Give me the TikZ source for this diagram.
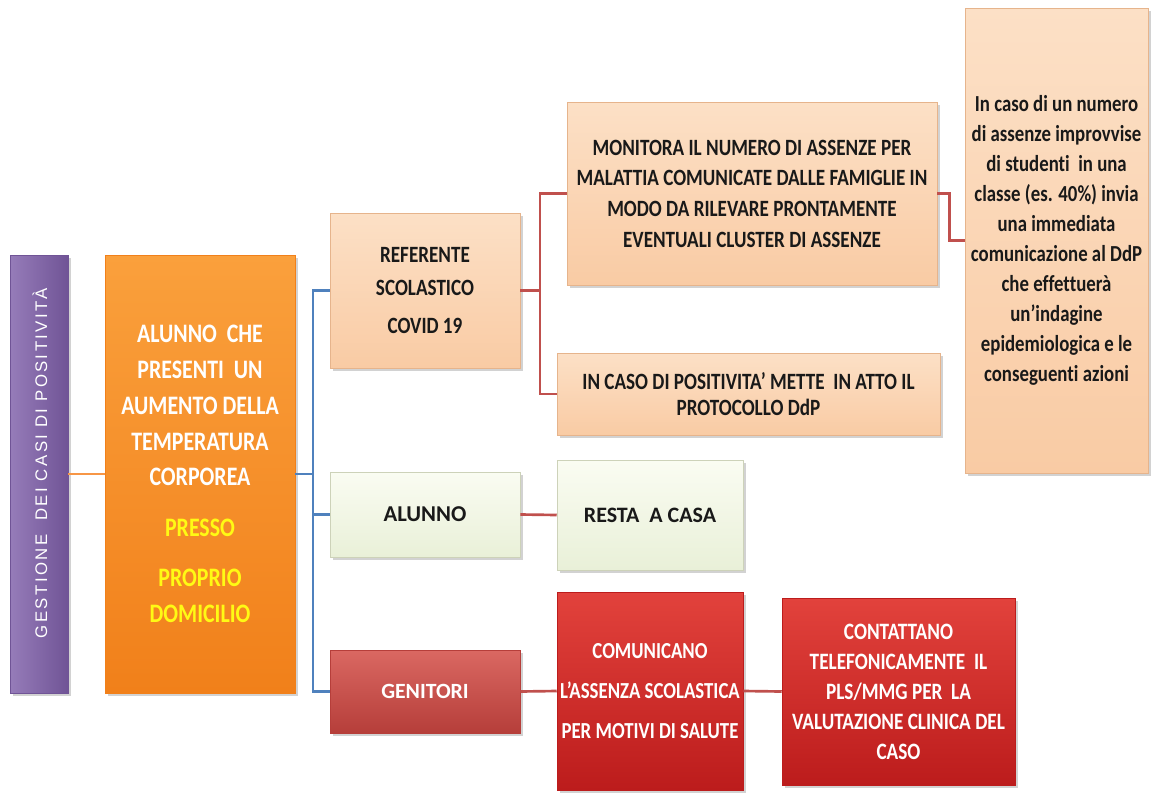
\documentclass[tikz,border=0pt]{standalone}
\usepackage{fontspec}
\setmainfont{Carlito}[FakeStretch=0.82, Ligatures=NoCommon]
\newfontfamily\wide{Carlito}[Ligatures=NoCommon]
\newfontfamily\gestf{Liberation Sans}[LetterSpace=14]
\usetikzlibrary{shadows,calc}
\definecolor{txt}{RGB}{25,25,25}
\definecolor{peachT}{RGB}{252,224,198}
\definecolor{peachB}{RGB}{249,203,164}
\definecolor{peachD}{RGB}{230,180,140}
\definecolor{creamT}{RGB}{250,252,242}
\definecolor{creamB}{RGB}{233,240,216}
\definecolor{creamD}{RGB}{205,210,185}
\definecolor{redT}{RGB}{226,66,60}
\definecolor{redB}{RGB}{188,28,28}
\definecolor{genT}{RGB}{218,104,98}
\definecolor{genB}{RGB}{182,62,58}
\definecolor{orT}{RGB}{250,160,60}
\definecolor{orB}{RGB}{241,128,26}
\definecolor{puL}{RGB}{150,124,185}
\definecolor{puR}{RGB}{112,84,150}
\definecolor{yel}{RGB}{255,250,20}
\definecolor{lblue}{RGB}{79,129,189}
\definecolor{lred}{RGB}{192,80,77}
\definecolor{lor}{RGB}{247,150,70}
\tikzset{
  box/.style={rectangle, inner sep=0pt, align=center, text=txt,
    drop shadow={opacity=0.35, shadow xshift=2.5pt, shadow yshift=-2.5pt}},
  peachbox/.style={box, top color=peachT, bottom color=peachB, draw=peachD, line width=0.4pt},
  creambox/.style={box, top color=creamT, bottom color=creamB, draw=creamD, line width=0.4pt},
  redbox/.style={box, top color=redT, bottom color=redB, draw=redB, line width=0.4pt, text=white},
  genbox/.style={box, top color=genT, bottom color=genB, draw=genB, line width=0.4pt, text=white},
  orbox/.style={box, top color=orT, bottom color=orB, draw=orB, line width=0.4pt, text=white},
  pubox/.style={box, left color=puL, right color=puR, draw=puR, line width=0.4pt},
  bline/.style={draw=lblue, line width=2pt},
  rline/.style={draw=lred, line width=2pt},
  oline/.style={draw=lor, line width=2pt},
}
\begin{document}
\begin{tikzpicture}[x=0.75pt,y=-0.75pt]
\fill[white] (0,0) rectangle (1153,793);
\useasboundingbox (0,0) rectangle (1153,793);

% boxes
\node[pubox, minimum width=43.5pt, minimum height=328.5pt] (gest) at (39,474) {};
\node[rotate=90, text=white, font=\gestf\fontsize{12.6}{14}\selectfont] (gestt) at (40,463) {GESTIONE\ \ DEI CASI DI POSITIVITÀ};

\node[orbox, minimum width=142.5pt, minimum height=328.5pt,
  font=\bfseries\fontsize{20}{26.8}\selectfont] (alu) at (200,474)
  {ALUNNO\ \ CHE\\ PRESENTI\ \ UN\\ AUMENTO DELLA\\ TEMPERATURA\\ CORPOREA\\[11pt]
   \textcolor{yel}{PRESSO}\\[11pt] \textcolor{yel}{PROPRIO}\\ \textcolor{yel}{DOMICILIO}};

\node[peachbox, minimum width=142.5pt, minimum height=116.25pt,
  font=\bfseries\fontsize{17.5}{24.5}\selectfont] (ref) at (425,290.5)
  {REFERENTE\\ SCOLASTICO\\[4pt] COVID 19};

\node[peachbox, minimum width=277.5pt, minimum height=137.25pt,
  font=\bfseries\fontsize{17.5}{23}\selectfont] (mon) at (752,193.5)
  {MONITORA IL NUMERO DI ASSENZE PER\\ MALATTIA COMUNICATE DALLE FAMIGLIE IN\\
   MODO DA RILEVARE PRONTAMENTE\\ EVENTUALI CLUSTER DI ASSENZE};

\node[peachbox, minimum width=287.25pt, minimum height=61.5pt,
  font=\bfseries\fontsize{17.5}{20}\selectfont] (pos) at (748.5,394)
  {IN CASO DI POSITIVITA' METTE\ \ IN ATTO IL\\ PROTOCOLLO DdP};

\node[peachbox, minimum width=137.25pt, minimum height=348.75pt,
  font=\bfseries\fontsize{17.2}{22.5}\selectfont] (dep) at (1056.5,240.5)
  {In caso\ di un numero\\ di assenze improvvise\\ di studenti\ \ in una\\ classe (es. 40\%) invia\\
   una immediata\\ comunicazione al DdP\\ che effettuerà\\ un'indagine\\ epidemiologica e le\\ conseguenti azioni};

\node[creambox, minimum width=142.5pt, minimum height=63.75pt,
  font=\wide\bfseries\fontsize{17}{21}\selectfont] (al2) at (425,514.5) {ALUNNO};

\node[creambox, minimum width=139.5pt, minimum height=82.5pt,
  font=\wide\bfseries\fontsize{16.5}{21}\selectfont] (res) at (650,515) {RESTA\ \ A CASA};

\node[genbox, minimum width=142.5pt, minimum height=62.25pt,
  font=\wide\bfseries\fontsize{16.3}{21}\selectfont] (gen) at (425,691.5) {GENITORI};

\node[redbox, minimum width=139.5pt, minimum height=148.5pt,
  font=\bfseries\fontsize{17.2}{30}\selectfont] (com) at (650,691)
  {COMUNICANO\\ L'ASSENZA SCOLASTICA\\ PER MOTIVI DI SALUTE};

\node[redbox, minimum width=174.75pt, minimum height=140.25pt,
  font=\bfseries\fontsize{17.6}{22.5}\selectfont] (con) at (898.5,691.5)
  {CONTATTANO\\ TELEFONICAMENTE\ \ IL\\ PLS/MMG PER\ \ LA\\ VALUTAZIONE CLINICA DEL\\ CASO};

% connectors
\draw[oline] (gest.east |- alu.west) -- (alu.west);
\coordinate (bj) at (313,474);
\draw[bline] (alu.east) -- (bj);
\draw[bline] (bj) |- (ref.west);
\draw[bline] (bj) |- (al2.west);
\draw[bline] (bj) |- (gen.west);
\coordinate (rj) at (540,290.5);
\draw[rline] (ref.east) -- (rj);
\draw[rline] (rj) |- (mon.west);
\draw[rline] (rj) |- (pos.west);
\draw[rline] (mon.east) -- ++(12,0) |- (dep.west);
\draw[rline] (al2.east) -- (res.west);
\draw[rline] (gen.east) -- (com.west);
\draw[rline] (com.east) -- (con.west);
\end{tikzpicture}
\end{document}
